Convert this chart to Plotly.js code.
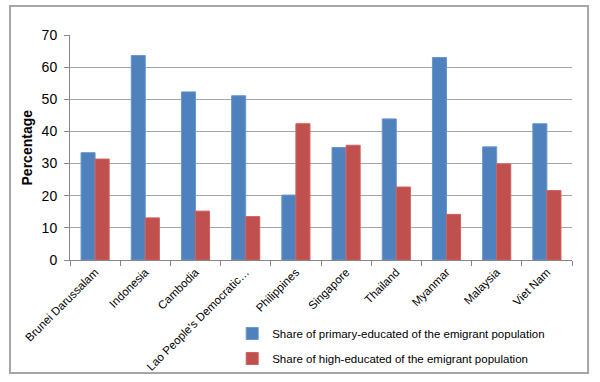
<!DOCTYPE html>
<html><head><meta charset="utf-8">
<script src="https://cdn.plot.ly/plotly-3.0.1.min.js"></script>
<style>html,body{margin:0;padding:0;background:#fff}#chart{width:600px;height:382px}</style>
</head><body><div id="chart"></div>
<script>
const countries = ["Brunei Darussalam","Indonesia","Cambodia","Lao People's Democratic…","Philippines","Singapore","Thailand","Myanmar","Malaysia","Viet Nam"];
const primaryShare = [33.4, 63.6, 52.3, 51.1, 20.2, 35.0, 43.9, 63.0, 35.2, 42.4];
const highShare = [31.4, 13.1, 15.2, 13.5, 42.4, 35.7, 22.7, 14.2, 29.9, 21.6];
const seriesNames = ["Share of primary-educated of the emigrant population","Share of high-educated of the emigrant population"];
const yTicks = [0,10,20,30,40,50,60,70];
const yTitle = "<b>Percentage</b>";

const font = "Liberation Sans, Arial, sans-serif";
const traces = [
  {type:"bar", x:countries, y:primaryShare, name:seriesNames[0], legendgroup:"a",
   marker:{color:"#4F81BD", line:{color:"#6A97CF", width:1}}},
  {type:"bar", x:countries, y:highShare, name:seriesNames[1], legendgroup:"b",
   marker:{color:"#C0504D", line:{color:"#D0605D", width:1}}}
];
const layout = {
  width:600, height:382,
  margin:{l:70, r:28, t:35, b:122, autoexpand:false},
  paper_bgcolor:"#fff", plot_bgcolor:"#fff",
  font:{family:font, size:11, color:"#000"},
  barmode:"group", bargap:0.44, bargroupgap:0,
  showlegend:true,
  legend:{xref:"container", yref:"container", x:0.387, y:0.165, xanchor:"left", yanchor:"top", orientation:"v",
    tracegroupgap:6, font:{size:11.5, family:font}, bgcolor:"rgba(0,0,0,0)", itemwidth:30},
  xaxis:{type:"category", tickangle:-45, tickson:"boundaries", ticks:"outside", ticklen:5,
    tickcolor:"#868686", showline:true, linecolor:"#868686", linewidth:1,
    showgrid:false, tickfont:{size:11.5, family:font}, automargin:false},
  yaxis:{range:[0,70], tickvals:yTicks, ticks:"outside", ticklen:5, tickcolor:"#868686",
    showline:true, linecolor:"#868686", linewidth:1, gridcolor:"#A6A6A6", gridwidth:1,
    tickfont:{size:14, family:font}, ticklabelstandoff:4, zeroline:false, automargin:false},
  annotations:[{text:yTitle, xref:"paper", yref:"paper", x:-0.0857, y:0.5, textangle:-90,
    showarrow:false, font:{size:14, family:font}, xanchor:"center", yanchor:"middle"}],
  shapes:[{type:"rect", xref:"paper", yref:"paper", x0:-0.1195, x1:1.032, y0:-0.502, y1:1.129,
    line:{color:"#A6A6A6", width:2}, layer:"below"}]
};
Plotly.newPlot("chart", traces, layout, {staticPlot:true});
</script></body></html>
